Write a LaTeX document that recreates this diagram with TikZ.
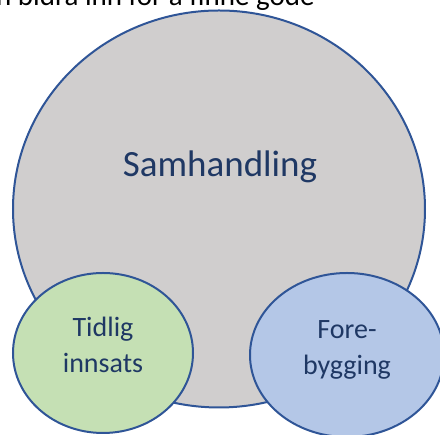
\documentclass[tikz,border=0pt]{standalone}
\usepackage{fontspec}
\setmainfont{Carlito}
\usetikzlibrary{shapes.geometric}
\definecolor{edgeblue}{RGB}{47,85,151}
\definecolor{textnavy}{RGB}{31,56,100}
\definecolor{greyfill}{RGB}{208,206,206}
\definecolor{greenfill}{RGB}{197,224,180}
\definecolor{bluefill}{RGB}{180,199,231}
\tikzset{
    blob/.style={ellipse,draw=edgeblue,line width=2pt,inner sep=0pt},
    blobtext/.style={text=textnavy,align=center,font=\fontsize{28}{36}\selectfont}
}
\begin{document}
\begin{tikzpicture}[x=1pt,y=1pt]
        \def\w{440}
        \def\h{435}
        \useasboundingbox (0,0) rectangle (\w,\h);
        \clip (0,0) rectangle (\w,\h);

        % cut off line of the slide text
        \node[anchor=base west,inner sep=0pt,font=\fontsize{29}{34}\selectfont] (caption) at (-4,429.5) {n bidra inn for å finne gode};

        \node[blob,fill=greyfill,minimum width=412pt,minimum height=397pt] (samhandling) at (219,226) {};
        \node[anchor=base,inner sep=0pt,text=textnavy,font=\fontsize{37}{44}\selectfont] (samtext) at (220,258) {Samhandling};

        \node[blob,fill=greenfill,minimum width=180pt,minimum height=160pt] (tidlig) at (103,82) {};
        \node[blobtext] (tidligtext) at ([yshift=8pt]tidlig.center) {Tidlig\\innsats};

        \node[blob,fill=bluefill,minimum width=194pt,minimum height=164pt] (fore) at (347,80) {};
        \node[blobtext] (foretext) at ([yshift=5pt]fore.center) {Fore-\\bygging};

    \end{tikzpicture}
\end{document}
